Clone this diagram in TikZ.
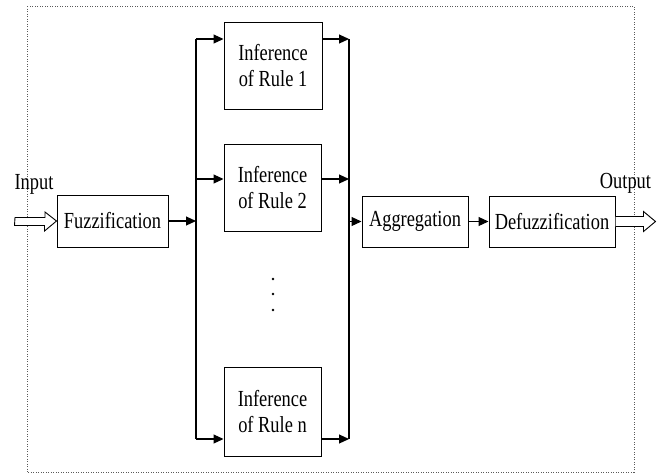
\documentclass[tikz,border=0pt]{standalone}
\usepackage{fontspec}
\setmainfont[FakeStretch=0.8]{Liberation Serif}
\usepackage{tikz}
\usetikzlibrary{arrows.meta,positioning}

\begin{document}
\begin{tikzpicture}[y=-1pt,x=1pt,
	block/.style={draw, line width=1pt, align=center, inner sep=0pt, font=\fontsize{23}{26}\selectfont},
	wire/.style={line width=1.1pt},
	arr/.style={line width=1.1pt, -{Triangle[length=10pt,width=9pt]}},
	label/.style={inner sep=0pt, font=\fontsize{23}{26}\selectfont}]

	\useasboundingbox (0,0) rectangle (662,474);
	% dotted frame
	\draw[gray!70!black, line width=0.8pt, dash pattern=on 0.9pt off 1.6pt] (27,6) rectangle (634,472);

	% blocks
	\node[block, minimum width=111, minimum height=52] (fuzz) at (112.5,221) {Fuzzification};
	\node[block, minimum width=98, minimum height=87] (rule1) at (273,65.5) {Inference\\of Rule 1};
	\node[block, minimum width=97, minimum height=87] (rule2) at (272.5,187.5) {Inference\\of Rule 2};
	\node[block, minimum width=97, minimum height=89] (rulen) at (272.5,411.5) {Inference\\of Rule n};
	\node[block, minimum width=106, minimum height=51] (agg) at (415,221.5) {Aggregation};
	\node[block, minimum width=126, minimum height=51] (defuzz) at (552,221.5) {Defuzzification};

	% vertical dots
	\foreach \y in {279,294,310}
		\fill (273,\y) circle (1.3);

	\node[label] (input) at (34,184) {Input};
	\node[label] (output) at (625.5,183) {Output};

	% bus coordinates
	\coordinate (l0) at (196,221);
	\coordinate (l1) at (196,39);
	\coordinate (l2) at (196,179);
	\coordinate (ln) at (196,439);
	\coordinate (r0) at (349,221.5);
	\coordinate (r1) at (349,39);
	\coordinate (r2) at (349,179);
	\coordinate (rn) at (349,439);

	\draw[wire] (l1) -- (ln);
	\draw[wire] (r1) -- (rn);

	\draw[arr] (fuzz.east |- l0) -- (l0);
	\draw[arr] (l1) -- (l1 -| rule1.west);
	\draw[arr] (l2) -- (l2 -| rule2.west);
	\draw[arr] (ln) -- (ln -| rulen.west);
	\draw[arr] (r1 -| rule1.east) -- (r1);
	\draw[arr] (r2 -| rule2.east) -- (r2);
	\draw[arr] (rn -| rulen.east) -- (rn);
	\draw[arr] (r0) -- (agg.west);
	\draw[arr] (agg.east) -- (defuzz.west);

	% hollow input / output arrows
	\coordinate (in0) at (15,222);
	\coordinate (out0) at (defuzz.east);
	\draw[line width=0.9pt, fill=white] (in0) ++(0,-4.5) -- ++(30,0) -- ++(0,-5.5) -- (fuzz.west) -- ++(-12,10) -- ++(0,-5.5) -- ++(-30,0) -- cycle;
	\draw[line width=0.9pt, fill=white] (out0) ++(0,-5) -- ++(28,0) -- ++(0,-5) -- ++(12,10) -- ++(-12,10) -- ++(0,-5) -- ++(-28,0);
\end{tikzpicture}
\end{document}
